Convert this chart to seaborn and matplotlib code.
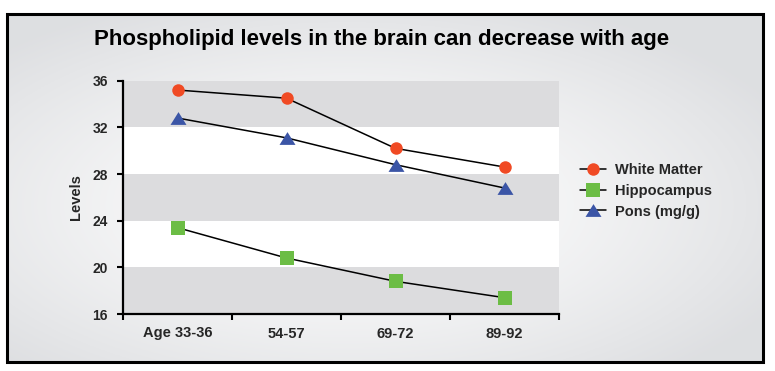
import numpy as np
import pandas as pd
import matplotlib
matplotlib.use("Agg")
import matplotlib.pyplot as plt
import seaborn as sns
from matplotlib.patches import Rectangle
from matplotlib.path import Path

# ---- data ----
ages = ["Age 33-36", "54-57", "69-72", "89-92"]
white_matter = [35.2, 34.5, 30.2, 28.6]
hippocampus = [23.4, 20.8, 18.8, 17.4]
pons = [32.8, 31.1, 28.8, 26.8]
series_names = ["White Matter", "Hippocampus", "Pons (mg/g)"]
y_ticks = [16, 20, 24, 28, 32, 36]
title = "Phospholipid levels in the brain can decrease with age"
y_label = "Levels"

df = pd.DataFrame({
    "age": ages * 3,
    "level": white_matter + hippocampus + pons,
    "series": [series_names[0]] * 4 + [series_names[1]] * 4 + [series_names[2]] * 4,
})

sns.set_theme(style="white")
plt.rcParams["font.family"] = ["Liberation Sans", "DejaVu Sans"]
plt.rcParams["font.weight"] = "bold"

W, H = 775, 371
fig = plt.figure(figsize=(W / 100, H / 100), dpi=100, facecolor="white")

# background panel with radial gradient and border
bx0, bx1, by_top, by_bot = 7 / W, 763 / W, 1 - 14 / H, 1 - 362 / H
bg = fig.add_axes([bx0, by_bot, bx1 - bx0, by_top - by_bot], zorder=-10)
gx, gy = np.meshgrid(np.linspace(0, 1, 400), np.linspace(0, 1, 200))
r = np.sqrt(((gx - 0.45) / 0.75) ** 2 + ((gy - 0.55) / 0.75) ** 2)
r = np.clip(r / 0.85, 0, 1)
lo = np.array([0.870, 0.875, 0.885])
img = (1 - r[..., None] ** 1.3) * np.array([1.0, 1.0, 1.0]) + (r[..., None] ** 1.3) * lo
bg.imshow(img, aspect="auto", extent=[0, 1, 0, 1], origin="upper")
bg.set_xlim(0, 1)
bg.set_ylim(0, 1)
bg.axis("off")
fig.patches.append(Rectangle((bx0, by_bot), bx1 - bx0, by_top - by_bot,
                             transform=fig.transFigure, fill=False,
                             edgecolor="black", linewidth=2.2, zorder=5))

ax = fig.add_axes([123 / W, 1 - 314 / H, (559 - 123) / W, (314 - 80.7) / H])
ax.set_facecolor("white")

for lo_, hi_ in [(32, 36), (24, 28), (16, 20)]:
    ax.axhspan(lo_, hi_, color="#dcdcde", zorder=0, linewidth=0)

tri = Path([(0, 0.8), (-1, -0.8), (1, -0.8), (0, 0.8)],
           [Path.MOVETO, Path.LINETO, Path.LINETO, Path.CLOSEPOLY])
styles = {
    "White Matter": dict(marker="o", color="#f04a24", ms=9),
    "Hippocampus": dict(marker="s", color="#6cbd45", ms=9.8),
    "Pons (mg/g)": dict(marker=tri, color="#3b55a6", ms=11.5),
}
for name in series_names:
    st = styles[name]
    sub = df[df["series"] == name]
    sns.lineplot(data=sub, x="age", y="level", ax=ax, color="black",
                 linewidth=1.1, marker=st["marker"], markersize=st["ms"],
                 markerfacecolor=st["color"], markeredgecolor=st["color"],
                 markeredgewidth=0, label=name, sort=False, zorder=3)

ax.set_xlim(-0.5, len(ages) - 0.5)
ax.set_ylim(16, 36)
ax.set_yticks(y_ticks)
ax.set_yticklabels([str(t) for t in y_ticks], fontsize=10, fontweight="bold")
ax.set_xticks(np.arange(-0.5, len(ages), 1.0))
ax.set_xticklabels([])
ax.set_xticks(np.arange(len(ages)), minor=True)
ax.set_xticklabels(ages, minor=True, fontsize=10.5, fontweight="bold")
ax.tick_params(axis="x", which="major", direction="out", length=4, width=1.5,
               color="black", bottom=True)
ax.tick_params(axis="x", which="minor", length=0, pad=9, bottom=True)
ax.tick_params(axis="y", direction="out", length=4, width=1.5, color="black",
               pad=7, left=True)
ax.set_xlabel("")
ax.set_ylabel(y_label, fontsize=10.5, fontweight="bold", labelpad=6.5)
for s in ["top", "right"]:
    ax.spines[s].set_visible(False)
for s in ["left", "bottom"]:
    ax.spines[s].set_color("black")
    ax.spines[s].set_linewidth(1.6)
ax.grid(False)

ax.get_legend().remove()
handles, labels = ax.get_legend_handles_labels()
fig.legend(handles, labels, loc="center left",
           bbox_to_anchor=(567 / W, 1 - 191 / H), frameon=False,
           prop={"size": 10.5, "weight": "bold"}, handlelength=1.8,
           handletextpad=0.6, labelspacing=0.45)

fig.text(382 / W, 1 - 40 / H, title, ha="center", va="center",
         fontsize=16, fontweight="bold", color="black")

fig.savefig("out.png", dpi=100, facecolor="white")
